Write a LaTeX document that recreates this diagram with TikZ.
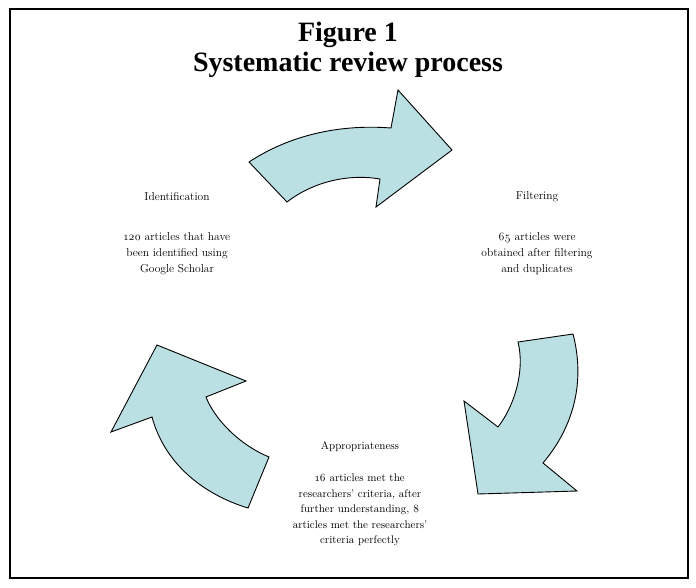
\documentclass[tikz,border=0pt]{standalone}
\usepackage{fontspec}
\setmainfont{Latin Modern Roman}[Numbers=OldStyle]
\newfontfamily\titlefont{Liberation Serif}
\definecolor{arrowfill}{RGB}{186,224,227}
\tikzset{
  cyclearrow/.style={draw=black, line width=0.9pt, fill=arrowfill, line join=miter},
  bodytext/.style={align=center, inner sep=0pt, font=\fontsize{11.5}{16}\selectfont},
  smalltext/.style={align=center, inner sep=0pt, font=\fontsize{11}{15.5}\selectfont},
}
\begin{document}
\begin{tikzpicture}[x=1pt,y=-1pt]
\useasboundingbox (0,0) rectangle (696,587);
\draw[line width=1.8pt] (10,9) rectangle (688,578);
\node[align=center, inner sep=0pt, font=\titlefont\bfseries\fontsize{28}{30}\selectfont] (title) at (348,50) {Figure 1\\Systematic review process};
% top arrow
\draw[cyclearrow] (249,162) .. controls (290,135) and (340,124) .. (391,128)
  -- (398,90) -- (452,150) -- (376,207) -- (380,179)
  .. controls (345,173) and (310,184) .. (287,202) -- cycle;
% right arrow
\draw[cyclearrow] (518,342) -- (573,334) .. controls (585,380) and (575,425) .. (543,463)
  -- (577,491) -- (478,494) -- (464,401) -- (498,427)
  .. controls (515,405) and (525,370) .. (518,342) -- cycle;
% left arrow
\draw[cyclearrow] (248,508) -- (269,457) .. controls (240,445) and (215,420) .. (206,397)
  -- (246,381) -- (157,345) -- (111,432) -- (152,417)
  .. controls (165,465) and (205,495) .. (248,508) -- cycle;
\node[bodytext] (ident) at (177,197) {Identification};
\node[bodytext, anchor=north] (identtxt) at (177,232) {120 articles that have\\been identified using\\Google Scholar};
\node[bodytext] (filt) at (537,197) {Filtering};
\node[bodytext, anchor=north] (filttxt) at (537,232) {65 articles were\\obtained after filtering\\and duplicates};
\node[smalltext] (appr) at (360,447) {Appropriateness};
\node[smalltext, anchor=north] (apprtxt) at (360,474) {16 articles met the\\researchers' criteria, after\\further understanding, 8\\articles met the researchers'\\criteria perfectly};
\end{tikzpicture}
\end{document}
